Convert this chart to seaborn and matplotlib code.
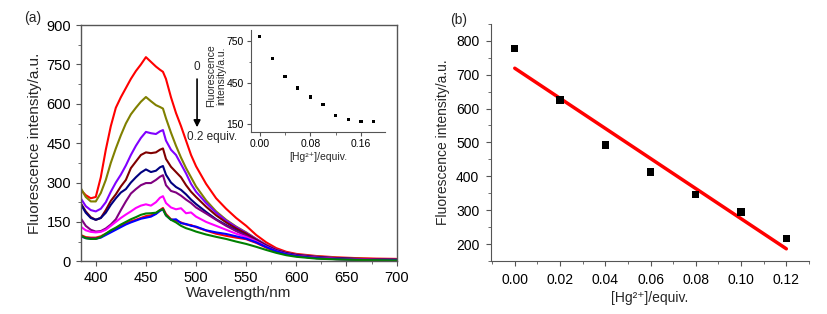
import matplotlib
matplotlib.use("Agg")
import matplotlib.pyplot as plt
from matplotlib.ticker import MultipleLocator, FixedLocator, FormatStrFormatter
import numpy as np
import pandas as pd
import seaborn as sns

sns.set_style("ticks")
plt.rcParams["font.family"] = ["Liberation Sans", "DejaVu Sans"]
plt.rcParams["mathtext.default"] = "regular"

# ---- data ----
wavelength = [385, 390, 395, 400, 405, 410, 415, 420, 425, 430, 435, 440, 445, 450,
              455, 460, 464, 467, 470, 475, 480, 485, 490, 495, 500, 510, 520, 530,
              540, 550, 560, 570, 580, 590, 600, 620, 640, 660, 680, 700]

spec_000 = [272, 252, 240, 245, 320, 425, 515, 585, 625, 660, 695, 725, 750, 778,
            760, 742, 730, 722, 695, 625, 565, 515, 460, 405, 362, 295, 240, 200,
            165, 135, 100, 72, 50, 36, 28, 20, 15, 12, 10, 9]
spec_002 = [279, 245, 228, 228, 260, 310, 375, 430, 480, 525, 560, 585, 608, 626,
            610, 595, 588, 582, 545, 490, 440, 395, 355, 320, 285, 232, 190, 158,
            132, 110, 85, 62, 44, 32, 25, 18, 13, 10, 8, 7]
spec_004 = [240, 210, 195, 190, 200, 225, 265, 300, 330, 365, 405, 440, 470, 493,
            488, 485, 495, 500, 460, 425, 405, 370, 335, 295, 265, 222, 185, 155,
            130, 108, 85, 62, 44, 32, 25, 17, 12, 9, 7, 6]
spec_006 = [221, 190, 168, 158, 165, 195, 230, 255, 285, 310, 355, 380, 405, 415,
            412, 415, 425, 430, 390, 360, 340, 320, 290, 265, 245, 208, 175, 148,
            125, 105, 82, 60, 42, 31, 24, 16, 11, 9, 7, 6]
spec_008 = [218, 185, 165, 158, 165, 185, 215, 240, 262, 275, 300, 320, 338, 350,
            340, 345, 358, 363, 330, 300, 283, 272, 255, 235, 218, 188, 160, 138,
            118, 98, 78, 58, 40, 30, 23, 15, 11, 8, 6, 5]
spec_010 = [164, 135, 120, 113, 115, 125, 140, 160, 195, 228, 258, 275, 290, 298,
            298, 310, 322, 328, 290, 268, 262, 250, 235, 222, 205, 182, 158, 135,
            115, 97, 77, 57, 40, 29, 22, 15, 10, 8, 6, 5]
spec_012 = [132, 118, 112, 110, 112, 120, 135, 150, 165, 178, 190, 203, 212, 217,
            212, 225, 242, 248, 222, 205, 198, 202, 183, 186, 170, 150, 135, 120,
            105, 92, 75, 55, 38, 27, 20, 13, 9, 7, 5, 5]
spec_014 = [100, 92, 90, 90, 95, 105, 115, 125, 135, 145, 152, 158, 165, 172,
            175, 182, 195, 203, 180, 160, 155, 148, 140, 138, 130, 117, 105, 97,
            90, 84, 70, 52, 36, 26, 20, 12, 8, 6, 5, 4]
spec_016 = [95, 88, 86, 86, 90, 100, 110, 120, 130, 140, 148, 155, 162, 166,
            170, 180, 192, 198, 175, 158, 160, 145, 142, 135, 132, 118, 110, 104,
            95, 86, 72, 54, 38, 27, 20, 12, 8, 6, 4, 4]
spec_018 = [98, 88, 85, 85, 92, 105, 118, 128, 140, 150, 160, 168, 177, 182,
            183, 185, 195, 198, 175, 158, 148, 135, 126, 120, 113, 102, 93, 85,
            75, 66, 55, 43, 32, 23, 17, 10, 7, 5, 4, 3]

spectra = [spec_000, spec_002, spec_004, spec_006, spec_008,
           spec_010, spec_012, spec_014, spec_016, spec_018]
equiv_labels = ["0.00", "0.02", "0.04", "0.06", "0.08",
                "0.10", "0.12", "0.14", "0.16", "0.18"]
curve_colors = ["#ff0000", "#808000", "#8000ff", "#800000", "#000080",
                "#800080", "#ff00ff", "#ff0000", "#0000ff", "#008000"]

# inset: intensity vs equiv
inset_equiv = [0.00, 0.02, 0.04, 0.06, 0.08, 0.10, 0.12, 0.14, 0.16, 0.18]
inset_int = [781, 626, 492, 412, 347, 296, 216, 182, 172, 167]
inset_yticks = [150, 450, 750]

# panel b: linear range
lin_equiv = [0.00, 0.02, 0.04, 0.06, 0.08, 0.10, 0.12]
lin_int = [778, 625, 492, 413, 347, 295, 217]

spec_df = pd.DataFrame({
    "wl": np.tile(wavelength, len(spectra)),
    "I": np.concatenate(spectra),
    "equiv": np.repeat(equiv_labels, len(wavelength)),
})

spine_c = "#555555"
hg_label = "[Hg²⁺]/equiv."

fig = plt.figure(figsize=(8.28, 3.14), dpi=100)

# ---- panel (a) ----
ax = fig.add_axes([0.0975, 0.168, 0.3815, 0.752])
sns.lineplot(data=spec_df, x="wl", y="I", hue="equiv", palette=curve_colors,
             sort=False, estimator=None, linewidth=1.5, legend=False, ax=ax)
ax.set_xlim(385, 700)
ax.set_ylim(0, 900)
ax.xaxis.set_major_locator(MultipleLocator(50))
ax.xaxis.set_minor_locator(MultipleLocator(25))
ax.yaxis.set_major_locator(MultipleLocator(150))
ax.yaxis.set_minor_locator(MultipleLocator(75))
ax.set_xlabel("Wavelength/nm", fontsize=11, labelpad=1)
ax.set_ylabel("Fluorescence intensity/a.u.", fontsize=11, labelpad=3)
ax.tick_params(which="both", direction="out", colors=spine_c, labelcolor="black",
               labelsize=10.5)
ax.tick_params(which="major", length=3.5)
ax.tick_params(which="minor", length=2)
for s in ax.spines.values():
    s.set_color(spine_c)
    s.set_linewidth(1.0)

ax.annotate("", xy=(501, 500), xytext=(501, 705),
            arrowprops=dict(arrowstyle="-|>", color="black", lw=1.2,
                            mutation_scale=10))
ax.text(501, 742, "0", ha="center", va="center", fontsize=8.5)
ax.text(516, 474, "0.2 equiv.", ha="center", va="center", fontsize=8.5)

# inset
axi = fig.add_axes([0.303, 0.580, 0.162, 0.324])
sns.scatterplot(x=inset_equiv, y=inset_int, color="black", marker="s", s=5,
                edgecolor="none", ax=axi)
axi.set_xlim(-0.014, 0.198)
axi.set_ylim(95, 830)
axi.xaxis.set_major_locator(MultipleLocator(0.08))
axi.xaxis.set_minor_locator(MultipleLocator(0.04))
axi.xaxis.set_major_formatter(FormatStrFormatter("%.2f"))
axi.yaxis.set_major_locator(FixedLocator(inset_yticks))
axi.yaxis.set_minor_locator(MultipleLocator(150))
axi.set_xlabel(hg_label, fontsize=7.5, labelpad=2)
axi.set_ylabel("Fluorescence\nintensity/a.u.", fontsize=7.5, linespacing=0.95)
axi.yaxis.set_label_coords(-0.185, 0.55)
axi.tick_params(which="both", direction="out", colors=spine_c, labelcolor="black",
                labelsize=7.5, pad=2)
axi.tick_params(which="major", length=3)
axi.tick_params(which="minor", length=1.8)
sns.despine(ax=axi)
for s in ["left", "bottom"]:
    axi.spines[s].set_color(spine_c)
axi.patch.set_alpha(0)

# ---- panel (b) ----
axb = fig.add_axes([0.593, 0.169, 0.384, 0.755])
sns.regplot(x=lin_equiv, y=lin_int, scatter=False, ci=None, color="#ff0000",
            line_kws=dict(linewidth=2.5), ax=axb)
sns.scatterplot(x=lin_equiv, y=lin_int, color="black", marker="s", s=28,
                edgecolor="none", ax=axb, zorder=3)
axb.set_xlim(-0.0105, 0.13)
axb.set_ylim(150, 850)
axb.xaxis.set_major_locator(MultipleLocator(0.02))
axb.xaxis.set_minor_locator(MultipleLocator(0.01))
axb.xaxis.set_major_formatter(FormatStrFormatter("%.2f"))
axb.yaxis.set_major_locator(MultipleLocator(100))
axb.yaxis.set_minor_locator(MultipleLocator(50))
axb.set_xlabel(hg_label, fontsize=10, labelpad=3)
axb.set_ylabel("Fluorescence intensity/a.u.", fontsize=10, labelpad=4)
axb.tick_params(which="both", direction="out", colors=spine_c, labelcolor="black",
                labelsize=10)
axb.tick_params(which="major", length=3.5, pad=5)
axb.tick_params(which="minor", length=2)
sns.despine(ax=axb)
for s in ["left", "bottom"]:
    axb.spines[s].set_color(spine_c)

fig.text(0.04, 0.943, "(a)", fontsize=10, ha="center", va="center")
fig.text(0.554, 0.936, "(b)", fontsize=10, ha="center", va="center")

fig.savefig("out.png", dpi=100)
